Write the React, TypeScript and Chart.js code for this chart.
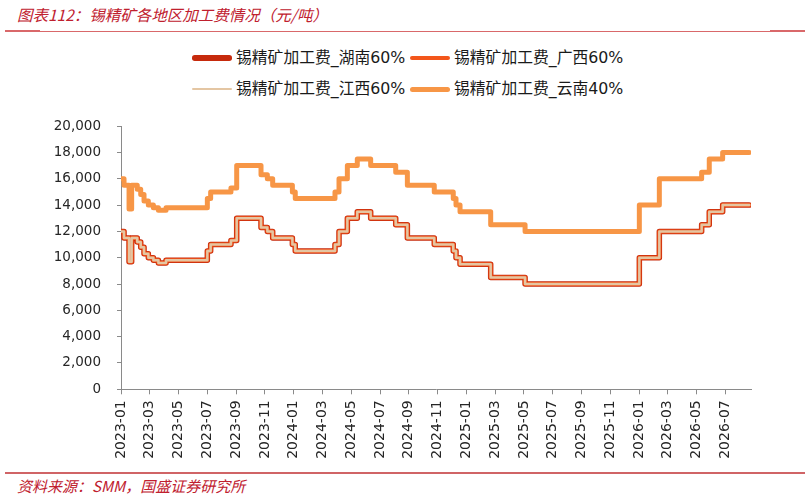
import { useEffect, useRef } from 'react';
import { Chart, registerables } from 'chart.js';

Chart.register(...registerables);

// months after 2023-01 at which the quoted fees change
const stepMonths = [
    0, 0.21, 0.56, 0.74, 1.13, 1.37, 1.6, 1.9, 2.25, 2.6, 3.13, 6.0, 6.23, 7.64, 8.04,
    9.73, 10.17, 10.54, 11.91, 12.11, 14.87, 15.15, 15.73, 16.42, 17.35, 19.09, 19.9,
    21.77, 23.09, 23.28, 23.56, 25.69, 28.08, 36.02, 37.41, 40.35, 40.88, 41.81, 43.66,
];

// 元/吨
const hunan60 = [
    12000, 11500, 9700, 11500, 11200, 10800, 10300, 10000, 9800, 9600, 9800, 10500, 11000, 11300, 13000,
    12300, 12000, 11500, 11000, 10500, 11000, 12000, 13000, 13500, 13000, 12500, 11500,
    11000, 10500, 10000, 9500, 8500, 8000, 10000, 12000, 12500, 13500, 14000, 14000,
];
const guangxi60 = [
    12000, 11500, 9700, 11500, 11200, 10800, 10300, 10000, 9800, 9600, 9800, 10500, 11000, 11300, 13000,
    12300, 12000, 11500, 11000, 10500, 11000, 12000, 13000, 13500, 13000, 12500, 11500,
    11000, 10500, 10000, 9500, 8500, 8000, 10000, 12000, 12500, 13500, 14000, 14000,
];
const jiangxi60 = [
    12000, 11500, 9700, 11500, 11200, 10800, 10300, 10000, 9800, 9600, 9800, 10500, 11000, 11300, 13000,
    12300, 12000, 11500, 11000, 10500, 11000, 12000, 13000, 13500, 13000, 12500, 11500,
    11000, 10500, 10000, 9500, 8500, 8000, 10000, 12000, 12500, 13500, 14000, 14000,
];
const yunnan40 = [
    16000, 15500, 13700, 15500, 15200, 14800, 14300, 14000, 13800, 13600, 13800, 14500, 15000, 15300, 17000,
    16300, 16000, 15500, 15000, 14500, 15000, 16000, 17000, 17500, 17000, 16500, 15500,
    15000, 14500, 14000, 13500, 12500, 12000, 14000, 16000, 16500, 17500, 18000, 18000,
];

const xTickLabels = [
    '2023-01', '2023-03', '2023-05', '2023-07', '2023-09', '2023-11',
    '2024-01', '2024-03', '2024-05', '2024-07', '2024-09', '2024-11',
    '2025-01', '2025-03', '2025-05', '2025-07', '2025-09', '2025-11',
    '2026-01', '2026-03', '2026-05', '2026-07',
];

const seriesNames = ['锡精矿加工费_湖南60%', '锡精矿加工费_广西60%', '锡精矿加工费_江西60%', '锡精矿加工费_云南40%'];
const seriesColors = ['#c62a0c', '#f3561b', '#e4c6a3', '#f79646'];
const seriesWidths = [5.5, 4, 2.5, 5];

const RED = '#c0202e';
const AXIS = '#8a8a8a';
const CJK = '"Noto Sans CJK SC", sans-serif';
const TICK_FAMILY = '"DejaVu Sans", Verdana, sans-serif';

function LegendItem({ i, left, cy }: { i: number; left: number; cy: number }) {
    const h = seriesWidths[i];
    return (
        <>
            <div
                style={{
                    position: 'absolute',
                    left,
                    top: cy - h / 2,
                    width: 40,
                    height: h,
                    borderRadius: h / 2,
                    background: seriesColors[i],
                }}
            />
            <div
                style={{
                    position: 'absolute',
                    left: left + 44,
                    top: cy - 10,
                    lineHeight: '20px',
                    fontSize: 15.8,
                    color: '#1a1a1a',
                    whiteSpace: 'nowrap',
                    fontFamily: '"DejaVu Sans", "Noto Sans CJK SC", sans-serif',
                }}
            >
                {seriesNames[i]}
            </div>
        </>
    );
}

export default function App() {
    const canvasRef = useRef<HTMLCanvasElement>(null);

    useEffect(() => {
        if (!canvasRef.current) return;
        const values = [hunan60, guangxi60, jiangxi60, yunnan40];
        const orders = [3, 2, 1, 0]; // jiangxi drawn over the other 60% lines

        const chart = new Chart(canvasRef.current, {
            type: 'line',
            data: {
                datasets: values.map((vals, i) => ({
                    label: seriesNames[i],
                    data: stepMonths.map((m, k) => ({ x: m, y: vals[k] })),
                    borderColor: seriesColors[i],
                    backgroundColor: seriesColors[i],
                    borderWidth: seriesWidths[i],
                    borderJoinStyle: 'round' as const,
                    borderCapStyle: 'round' as const,
                    pointRadius: 0,
                    stepped: true,
                    fill: false,
                    order: orders[i],
                })),
            },
            options: {
                animation: false,
                responsive: false,
                // top gap comes from the y tick padding (~23px)
                layout: { padding: { left: 0, right: 60, top: 0, bottom: 0 } },
                plugins: {
                    legend: { display: false },
                    tooltip: { enabled: false },
                },
                scales: {
                    x: {
                        type: 'linear',
                        min: 0,
                        max: 43.78,
                        afterBuildTicks: (s) => {
                            s.ticks = xTickLabels.map((_, i) => ({ value: i * 2 }));
                        },
                        afterFit: (s) => {
                            s.height = 80.7;
                        },
                        ticks: {
                            autoSkip: false,
                            minRotation: 90,
                            maxRotation: 90,
                            padding: 6,
                            color: '#262626',
                            font: { family: TICK_FAMILY, size: 14 },
                            callback: (_v, i) => xTickLabels[i],
                        },
                        grid: { drawOnChartArea: false, tickLength: 5, color: AXIS },
                        border: { color: AXIS },
                    },
                    y: {
                        min: 0,
                        max: 20000,
                        afterFit: (s) => {
                            s.width = 121;
                        },
                        ticks: {
                            stepSize: 2000,
                            padding: 16,
                            color: '#262626',
                            font: { family: TICK_FAMILY, size: 13.5 },
                            callback: (v) => Number(v).toLocaleString('en-US'),
                        },
                        grid: { drawOnChartArea: false, tickLength: 4, color: AXIS },
                        border: { color: AXIS },
                    },
                },
            },
        });

        return () => chart.destroy();
    }, []);

    return (
        <div style={{ position: 'relative', width: 811, height: 497, background: '#fff', overflow: 'hidden' }}>
            <style>{'body{margin:0}'}</style>

            {/* title */}
            <div
                style={{
                    position: 'absolute',
                    left: 17,
                    top: 4,
                    lineHeight: '20px',
                    fontSize: 15.5,
                    fontStyle: 'italic',
                    color: RED,
                    fontFamily: CJK,
                    whiteSpace: 'nowrap',
                }}
            >
                图表112：锡精矿各地区加工费情况（元/吨）
            </div>
            <div style={{ position: 'absolute', left: 5, top: 31, width: 800, height: 1, background: '#d9686a' }} />
            <div style={{ position: 'absolute', left: 5, top: 30, width: 35, height: 2, background: '#d9686a' }} />
            <div style={{ position: 'absolute', left: 770, top: 30, width: 35, height: 2, background: '#d9686a' }} />

            {/* legend */}
            <LegendItem i={0} left={192} cy={58} />
            <LegendItem i={1} left={410} cy={58} />
            <LegendItem i={2} left={192} cy={89} />
            <LegendItem i={3} left={410} cy={89} />

            <canvas
                ref={canvasRef}
                width={811}
                height={368}
                style={{ position: 'absolute', left: 0, top: 102, width: 811, height: 368 }}
            />

            {/* source */}
            <div style={{ position: 'absolute', left: 5, top: 472, width: 800, height: 2, background: '#d06466' }} />
            <div
                style={{
                    position: 'absolute',
                    left: 17,
                    top: 476,
                    lineHeight: '20px',
                    fontSize: 15,
                    fontStyle: 'italic',
                    color: RED,
                    fontFamily: CJK,
                    whiteSpace: 'nowrap',
                }}
            >
                资料来源：SMM，国盛证券研究所
            </div>
        </div>
    );
}
